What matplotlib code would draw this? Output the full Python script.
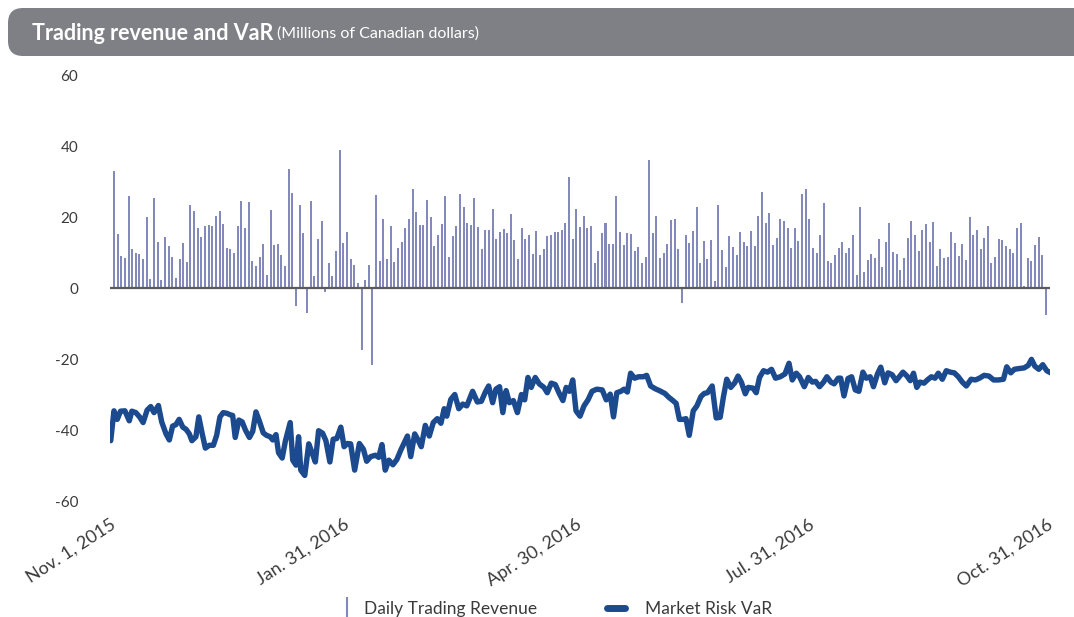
import matplotlib
matplotlib.use("Agg")
import numpy as np
import matplotlib.pyplot as plt
from matplotlib.patches import FancyBboxPatch
from matplotlib.lines import Line2D
from matplotlib.legend_handler import HandlerLine2D

plt.rcParams['font.family'] = ['Lato', 'DejaVu Sans']

# daily trading revenue, one bar per trading day (Nov. 2, 2015 - Oct. 31, 2016)
revenue = [
    33.0, 15.3, 9.1, 8.5, 26.0, 11.1, 10.0, 9.7, 8.3, 20.1, 2.6, 25.4, 13.1,
    2.3, 14.5, 11.9, 8.8, 2.9, 8.3, 12.8, 7.4, 23.5, 21.8, 17.0, 14.5, 17.6,
    17.8, 17.6, 20.4, 21.8, 18.1, 11.4, 11.1, 10.0, 17.6, 24.6, 17.0, 24.3,
    7.7, 6.3, 8.8, 12.5, 3.8, 22.1, 12.2, 12.5, 9.4, 6.3, 33.6, 26.9, -5.2,
    23.5, 15.6, -6.9, 24.6, 3.5, 13.9, 19.0, -1.2, 7.1, 3.5, 10.5, 39.0, 12.8,
    15.9, 8.3, 6.6, 1.5, -17.6, 2.3, 6.6, -21.8, 26.3, 7.7, 19.5, 8.3, 17.6,
    7.4, 11.4, 13.1, 17.0, 19.5, 28.0, 21.5, 17.8, 17.8, 24.9, 20.1, 11.9,
    15.0, 18.1, 26.0, 8.8, 14.7, 17.6, 26.6, 22.9, 18.4, 17.8, 25.4, 17.3,
    11.1, 16.4, 16.4, 22.3, 13.9, 15.9, 16.7, 15.6, 20.9, 13.6, 8.3, 17.0,
    13.9, 15.0, 9.7, 16.2, 9.4, 11.1, 14.7, 15.0, 15.9, 15.9, 16.4, 18.4,
    31.4, 13.9, 22.3, 17.3, 20.4, 17.0, 17.6, 7.1, 10.5, 15.6, 18.4, 12.5,
    12.5, 26.0, 15.9, 12.2, 15.6, 15.3, 10.5, 11.6, 7.1, 8.8, 36.2, 15.6,
    20.4, 8.5, 10.0, 12.5, 19.2, 19.5, 11.1, -4.3, 15.0, 12.8, 16.2, 22.9,
    7.1, 13.3, 8.3, 13.6, 2.1, 23.5, 10.8, 6.0, 14.7, 11.6, 9.4, 15.9, 13.1,
    11.9, 16.2, 11.9, 20.4, 27.1, 18.4, 21.2, 12.2, 14.2, 19.5, 19.0, 17.0,
    11.4, 17.0, 13.3, 26.6, 28.0, 19.5, 11.4, 10.0, 15.0, 24.0, 7.7, 7.1,
    9.4, 11.4, 13.1, 10.0, 11.4, 15.0, 3.8, 22.9, 4.6, 8.0, 9.7, 8.5, 13.9,
    6.0, 13.1, 18.4, 10.2, 9.7, 5.2, 8.5, 14.2, 19.0, 15.0, 10.5, 16.4, 18.1,
    13.1, 18.7, 6.3, 11.1, 8.5, 8.8, 15.9, 12.8, 9.1, 12.5, 8.0, 20.1, 15.0,
    16.4, 11.1, 14.2, 17.6, 7.1, 8.8, 13.9, 13.6, 11.9, 11.1, 10.0, 17.0,
    18.4, 0.7, 8.5, 7.7, 12.2, 14.5, 9.4, -7.7,
]

# market risk VaR, position in trading days and value
var_day = [
    -0.9, 0.0, 0.9, 1.8, 3.0, 4.2, 4.9, 6.0, 7.1, 8.0, 9.1, 10.1, 11.0, 12.2,
    13.1, 14.3, 15.2, 16.1, 17.0, 17.9, 18.9, 19.8, 20.7, 21.4, 22.5, 23.3,
    24.2, 25.1, 26.2, 27.3, 28.2, 29.1, 30.0, 31.0, 31.9, 32.6, 33.3, 34.3,
    35.2, 36.1, 37.2, 38.1, 39.0, 39.9, 41.0, 41.9, 42.9, 43.6, 44.5, 45.2,
    46.2, 47.1, 48.4, 49.1, 50.0, 50.7, 51.3, 52.4, 53.5, 54.4, 55.3, 56.2,
    57.3, 58.2, 59.3, 60.2, 61.2, 62.3, 63.2, 64.1, 65.0, 66.1, 67.4, 68.5,
    69.4, 70.5, 71.8, 72.7, 73.6, 74.5, 75.5, 76.6, 77.7, 78.8, 79.9, 80.6,
    81.5, 82.6, 83.5, 84.4, 85.5, 86.6, 87.7, 88.8, 89.8, 90.7, 91.4, 92.5,
    93.6, 94.7, 95.8, 96.9, 98.5, 99.8, 100.9, 102.0, 102.9, 104.0, 104.9,
    105.9, 106.8, 107.7, 108.6, 109.7, 110.8, 111.9, 112.8, 113.7, 114.6,
    115.7, 116.8, 118.1, 119.0, 120.1, 121.2, 122.3, 123.3, 124.2, 125.1,
    126.0, 126.9, 128.0, 129.1, 130.2, 131.3, 132.6, 134.1, 135.2, 136.3,
    137.2, 138.1, 139.2, 140.1, 141.0, 141.9, 143.0, 144.1, 145.4, 146.3,
    147.4, 148.7, 149.8, 151.3, 152.4, 153.5, 154.4, 155.3, 156.4, 157.1,
    158.0, 159.1, 160.1, 161.2, 162.1, 163.0, 164.3, 165.4, 166.5, 167.4,
    168.3, 169.4, 170.5, 171.4, 172.3, 173.4, 174.2, 175.5, 176.4, 177.3,
    178.4, 179.5, 180.6, 181.7, 183.0, 184.3, 185.4, 186.3, 187.4, 188.3,
    189.6, 190.7, 191.8, 192.7, 193.8, 194.9, 195.8, 196.9, 197.8, 198.9,
    199.6, 200.5, 201.6, 202.6, 203.6, 204.6, 205.7, 206.6, 207.7, 208.6,
    209.7, 210.6, 211.7, 212.6, 213.7, 214.8, 215.7, 216.7, 217.8, 218.7,
    219.6, 220.5, 221.4, 222.5, 223.4, 224.5, 225.5, 226.4, 227.5, 228.6,
    229.7, 230.8, 231.9, 233.0, 234.1, 235.4, 236.6, 237.7, 239.0, 240.3,
    241.6, 242.9, 244.3, 245.2, 246.3, 247.3, 248.5, 250.0, 251.1, 252.0,
    252.9, 254.0, 255.1, 256.2, 257.3,
]
var_value = [
    -43.0, -34.6, -37.0, -34.7, -34.6, -37.4, -34.7, -35.1, -36.4, -37.9,
    -34.4, -33.4, -35.1, -33.1, -37.7, -41.1, -42.8, -38.9, -38.5, -37.0,
    -39.2, -39.8, -41.1, -43.0, -41.9, -36.3, -40.9, -45.1, -44.3, -44.3,
    -41.5, -36.3, -35.1, -35.3, -35.7, -35.9, -42.1, -37.2, -37.7, -40.0,
    -42.1, -40.4, -34.9, -37.4, -40.8, -41.5, -41.9, -42.8, -41.3, -46.4,
    -47.9, -43.0, -37.9, -48.5, -49.9, -41.9, -51.3, -52.8, -43.9, -46.4,
    -49.0, -40.2, -40.9, -43.0, -49.0, -42.6, -42.4, -39.2, -44.7, -43.8,
    -43.9, -51.3, -43.8, -45.4, -48.8, -47.5, -47.1, -47.7, -44.1, -51.3,
    -48.5, -49.8, -48.3, -45.6, -43.2, -41.7, -47.5, -41.1, -42.8, -44.7,
    -38.7, -41.7, -37.9, -36.8, -38.1, -34.0, -36.1, -31.4, -30.0, -34.0,
    -32.7, -33.2, -29.1, -32.1, -31.9, -29.3, -27.6, -32.3, -28.5, -27.8,
    -35.1, -28.9, -32.3, -31.7, -35.1, -30.0, -31.5, -25.2, -28.0, -25.2,
    -27.0, -28.0, -29.5, -26.8, -27.2, -29.7, -31.7, -28.0, -29.1, -25.9,
    -34.6, -36.1, -33.2, -31.5, -29.1, -28.5, -28.7, -31.5, -29.9, -36.3,
    -29.5, -29.1, -28.5, -29.3, -24.0, -25.4, -25.0, -25.0, -24.6, -27.6,
    -28.4, -28.9, -29.7, -30.8, -31.7, -32.5, -37.0, -37.0, -36.8, -41.5,
    -34.6, -33.2, -30.6, -29.7, -29.5, -27.6, -36.6, -36.4, -30.6, -25.7,
    -28.0, -26.7, -24.8, -26.5, -29.8, -28.0, -28.2, -29.5, -25.2, -23.3,
    -23.7, -22.9, -25.4, -25.0, -24.2, -21.2, -25.9, -24.0, -25.0, -27.8,
    -25.2, -26.5, -26.3, -27.8, -26.5, -25.0, -26.5, -27.0, -25.4, -25.4,
    -30.4, -25.5, -25.0, -28.7, -29.1, -23.7, -25.4, -25.0, -27.8, -24.2,
    -22.3, -26.7, -23.9, -24.4, -26.1, -25.0, -23.7, -24.8, -26.1, -24.0,
    -28.0, -26.5, -26.8, -25.9, -25.0, -25.4, -24.0, -25.7, -23.3, -23.7,
    -23.9, -25.0, -26.5, -27.6, -25.7, -25.9, -25.4, -24.6, -24.8, -25.9,
    -25.9, -25.7, -22.2, -23.9, -22.9, -22.7, -22.5, -21.8, -20.1, -22.0,
    -22.9, -21.6, -23.3, -23.9,
]

date_labels = ["Nov. 1, 2015", "Jan. 31, 2016", "Apr. 30, 2016",
               "Jul. 31, 2016", "Oct. 31, 2016"]
date_pos = [-1.1, 62.9, 126.9, 190.7, 256.3]
y_ticks = [60, 40, 20, 0, -20, -40, -60]

bar_color = "#8389ba"
var_color = "#1c4a8e"
text_color = "#3a3a3a"


class PlacedHandler(HandlerLine2D):
    """draw the legend line/marker only over part of the handle box"""

    def __init__(self, x0, x1, **kw):
        super().__init__(**kw)
        self.x0, self.x1 = x0, x1

    def get_xdata(self, legend, xdescent, ydescent, width, height, fontsize):
        xd = np.array([self.x0, self.x1]) * width - xdescent
        return xd, xd[-1:]


fig = plt.figure(figsize=(10.74, 6.17), dpi=100)
ax = fig.add_axes([0.1024, 0.188, 0.8753, 0.6904])

days = np.arange(len(revenue))
ax.bar(days, revenue, width=0.55, color=bar_color, zorder=2)
ax.axhline(0, color="#5a5a5a", lw=1.6, zorder=3)
ax.plot(var_day, var_value, color=var_color, lw=3.9,
        solid_joinstyle="round", solid_capstyle="round", zorder=4)

ax.set_xlim(-1.1, 257.1)
ax.set_ylim(-60, 60)
ax.set_yticks(y_ticks)
ax.set_yticklabels([str(v) for v in y_ticks])
ax.set_xticks(date_pos)
ax.set_xticklabels(date_labels, rotation=33, ha="right", va="top",
                   rotation_mode="anchor")
ax.tick_params(axis="y", length=0, pad=23, labelsize=11, labelcolor=text_color)
ax.tick_params(axis="x", length=0, pad=11, labelsize=13, labelcolor=text_color)
for s in ax.spines.values():
    s.set_visible(False)

# title banner
banner = FancyBboxPatch((8, 617 - 56), 1120, 48,
                        boxstyle="round,pad=0,rounding_size=15",
                        transform=None, facecolor="#7f8085",
                        edgecolor="none", zorder=0)
fig.patches.append(banner)
t1 = fig.text(32 / 1074, 1 - 33 / 617, "Trading revenue and VaR",
              color="white", fontsize=15.5, fontweight="bold", va="center")
fig.canvas.draw()
bb = t1.get_window_extent()
fig.text((bb.x1 + 4) / 1074, 1 - 34 / 617, "(Millions of Canadian dollars)",
         color="white", fontsize=11.5, va="center")

rev_handle = Line2D([], [], color=bar_color, marker="|", linestyle="none",
                    markersize=16, markeredgewidth=1.5)
var_handle = Line2D([], [], color=var_color, lw=5, solid_capstyle="round")
fig.legend([rev_handle, var_handle], ["Daily Trading Revenue", "Market Risk VaR"],
           loc="center", bbox_to_anchor=(0.509, 0.013), ncol=2, frameon=False,
           fontsize=12.5, handlelength=2.0, columnspacing=3.8,
           handletextpad=0.45, labelcolor=text_color,
           handler_map={rev_handle: PlacedHandler(0.76, 0.76),
                        var_handle: PlacedHandler(0.115, 0.63)})

fig.savefig("out.png", dpi=100)
